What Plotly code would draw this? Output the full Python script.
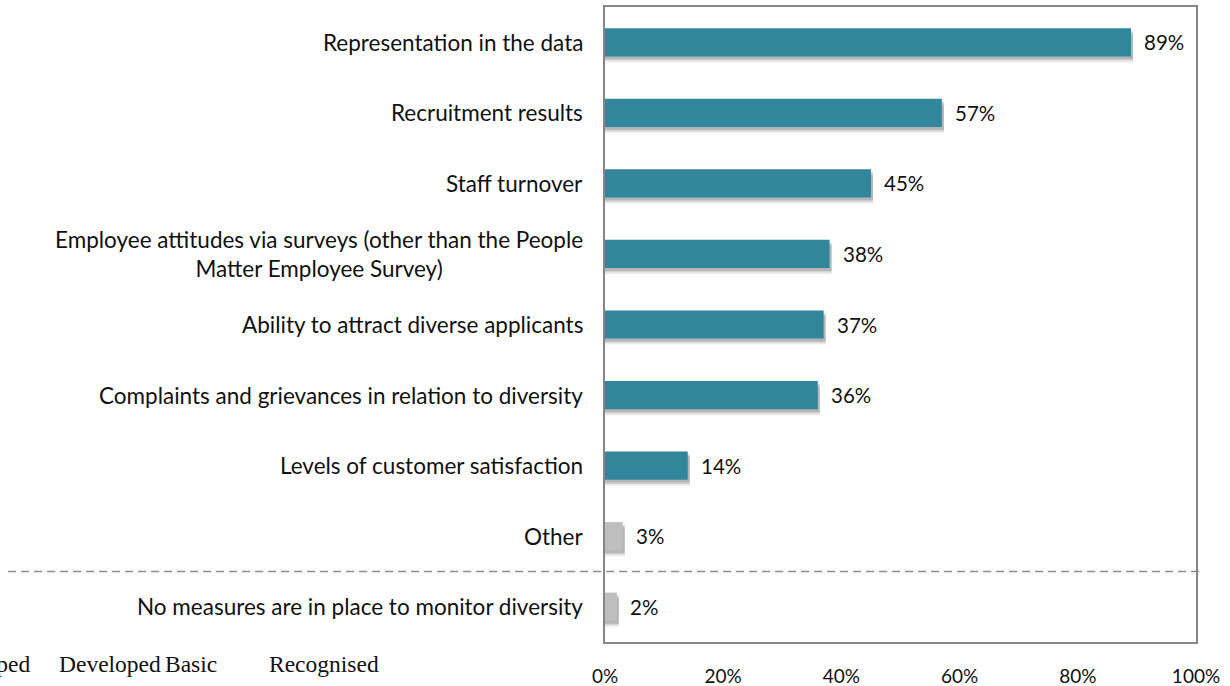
import plotly.graph_objects as go

# Survey results: measures used to monitor diversity
categories = [
    "Representation in the data",
    "Recruitment results",
    "Staff turnover",
    "Employee attitudes via surveys (other than the People<br>Matter Employee Survey)",
    "Ability to attract diverse applicants",
    "Complaints and grievances in relation to diversity",
    "Levels of customer satisfaction",
    "Other",
    "No measures are in place to monitor diversity",
]
values = [89, 57, 45, 38, 37, 36, 14, 3, 2]
bar_colors = ["#31869b"] * 7 + ["#bfbfbf"] * 2
x_ticks = [0, 20, 40, 60, 80, 100]
x_tick_labels = ["0%", "20%", "40%", "60%", "80%", "100%"]
legend_words = ["Undeveloped", "Developed", "Basic", "Recognised"]

FONT = "Lato"
BAR_W = 0.4

fig = go.Figure()

# soft drop shadow under each bar (layered translucent bars)
for shift, alpha in [(0.085, 0.10), (0.06, 0.14), (0.04, 0.18)]:
    fig.add_trace(go.Bar(
        x=[v + 0.35 for v in values], y=categories, orientation="h",
        width=BAR_W, offset=-BAR_W / 2 + shift,
        marker=dict(color=f"rgba(60,60,60,{alpha})", line=dict(width=0)),
        hoverinfo="skip", showlegend=False,
    ))

fig.add_trace(go.Bar(
    x=values, y=categories, orientation="h",
    width=BAR_W, offset=-BAR_W / 2,
    marker=dict(color=bar_colors, line=dict(width=0)),
    showlegend=False,
))

# category labels, centred lines, right-aligned next to the axis
for cat in categories:
    fig.add_annotation(
        x=0, xref="paper", y=cat, yref="y", text=cat, showarrow=False,
        xanchor="right", yanchor="middle", align="center", xshift=-20,
        font=dict(family=FONT, size=22.5, color="#111111"),
    )

# value labels at the end of each bar
for cat, v in zip(categories, values):
    fig.add_annotation(
        x=v, xref="x", y=cat, yref="y", text=f"{v}%", showarrow=False,
        xanchor="left", yanchor="middle", xshift=11,
        font=dict(family=FONT, size=20.5, color="#111111"),
    )

# dashed separator above the "no measures" row
fig.add_shape(
    type="line", xref="paper", yref="y",
    x0=-1.01, x1=1.012, y0=7.5, y1=7.5,
    line=dict(color="#8c8c8c", width=1.5, dash="8px,5px"),
)

# rating scale words along the lower left
legend_x = [33, 57, 163, 267]
for word, px in zip(legend_words, legend_x):
    anchor = "right" if word == "Undeveloped" else "left"
    fig.add_annotation(
        x=(px - 605) / 591, xref="paper", y=-0.035, yref="paper",
        text=word, showarrow=False, xanchor=anchor, yanchor="middle",
        font=dict(family="Liberation Serif", size=23.5, color="#111111"),
    )

fig.update_layout(
    width=1230, height=686,
    margin=dict(l=605, r=34, t=7, b=44),
    paper_bgcolor="white", plot_bgcolor="white",
    barmode="overlay", bargap=0.6,
)
fig.update_xaxes(
    range=[0, 100], tickvals=x_ticks, ticktext=x_tick_labels,
    showgrid=False, zeroline=False, showline=True, mirror=True,
    linecolor="#868686", linewidth=2, ticks="", ticklabelstandoff=16,
    automargin=False,
    tickfont=dict(family=FONT, size=19, color="#111111"),
)
fig.update_yaxes(
    autorange="reversed", showticklabels=False, showgrid=False,
    zeroline=False, showline=True, mirror=True, automargin=False,
    linecolor="#868686", linewidth=2, ticks="",
)

fig.write_html("out.html")
